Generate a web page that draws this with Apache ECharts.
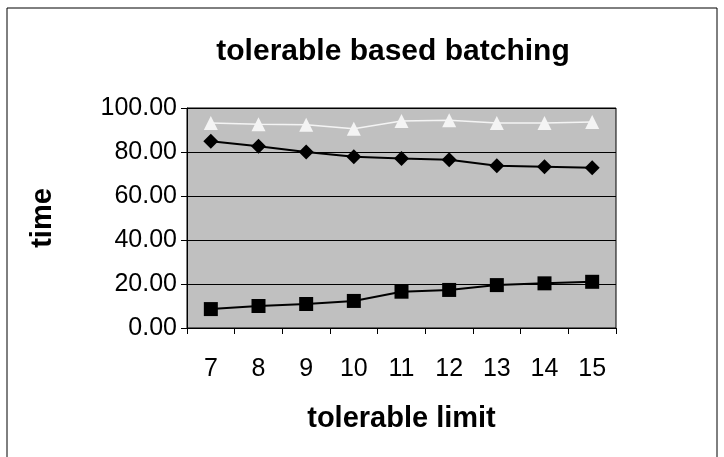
<!DOCTYPE html>
<html>
<head>
<meta charset="utf-8">
<script src="https://cdn.jsdelivr.net/npm/echarts@6/dist/echarts.min.js"></script>
<style>
  html, body { margin: 0; padding: 0; background: #fff; }
  #chart { width: 724px; height: 457px; }
</style>
</head>
<body>
<div id="chart"></div>
<script>
// 容忍度分批：三条曲线
const limits = ['7', '8', '9', '10', '11', '12', '13', '14', '15']
const triangleSeries = [93.2, 92.6, 92.4, 90.6, 94.1, 94.4, 93.2, 93.2, 93.6]
const diamondSeries = [84.9, 82.6, 80.0, 77.8, 77.0, 76.5, 73.8, 73.3, 72.8]
const squareSeries = [8.6, 10.0, 10.9, 12.3, 16.5, 17.3, 19.5, 20.3, 21.0]

const font = 'Arial, "Liberation Sans", sans-serif'

const chart = echarts.init(document.getElementById('chart'))

chart.setOption({
  animation: false,
  backgroundColor: '#fff',
  title: {
    text: 'tolerable based batching',
    left: 388,
    textAlign: 'center',
    top: 32,
    textStyle: { fontFamily: font, fontSize: 30, fontWeight: 'bold', color: '#000' }
  },
  graphic: [{
    type: 'rect',
    shape: { x: 7, y: 8, width: 710, height: 460 },
    style: { fill: 'none', stroke: '#000', lineWidth: 1 },
    silent: true
  }],
  grid: {
    left: 187, right: 108, top: 108, bottom: 129,
    show: true,
    backgroundColor: '#c0c0c0',
    borderColor: '#000',
    borderWidth: 1
  },
  xAxis: {
    type: 'category',
    data: limits,
    boundaryGap: true,
    name: 'tolerable limit',
    nameLocation: 'middle',
    nameGap: 76,
    nameTextStyle: { fontFamily: font, fontSize: 29, fontWeight: 'bold', color: '#000' },
    axisLine: { lineStyle: { color: '#000', width: 1 } },
    axisTick: { show: true, inside: false, length: 6, lineStyle: { color: '#000' } },
    axisLabel: { fontFamily: font, fontSize: 25, color: '#000', margin: 29 }
  },
  yAxis: {
    type: 'value',
    min: 0,
    max: 100,
    interval: 20,
    name: 'time',
    nameLocation: 'middle',
    nameGap: 130,
    nameRotate: 90,
    nameTextStyle: { fontFamily: font, fontSize: 29, fontWeight: 'bold', color: '#000' },
    axisLine: { show: true, lineStyle: { color: '#000', width: 1 } },
    axisTick: { show: true, inside: false, length: 6, lineStyle: { color: '#000' } },
    axisLabel: {
      fontFamily: font, fontSize: 25, color: '#000', margin: 10,
      formatter: v => v.toFixed(2)
    },
    splitLine: { show: true, lineStyle: { color: '#000', width: 1 } }
  },
  series: [
    {
      name: 'triangle',
      type: 'line',
      data: triangleSeries,
      symbol: 'triangle',
      symbolSize: 14,
      lineStyle: { color: '#f4f4f4', width: 1.5 },
      itemStyle: { color: '#f4f4f4' }
    },
    {
      name: 'diamond',
      type: 'line',
      data: diamondSeries,
      symbol: 'diamond',
      symbolSize: 15,
      lineStyle: { color: '#000', width: 2 },
      itemStyle: { color: '#000' }
    },
    {
      name: 'square',
      type: 'line',
      data: squareSeries,
      symbol: 'rect',
      symbolSize: 14,
      lineStyle: { color: '#000', width: 2 },
      itemStyle: { color: '#000' }
    }
  ]
})
</script>
</body>
</html>
